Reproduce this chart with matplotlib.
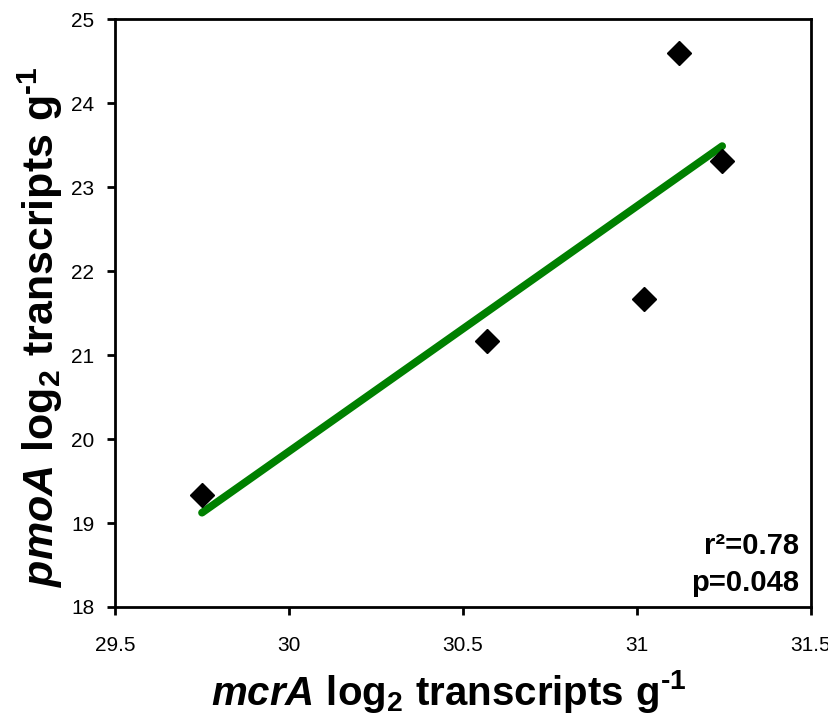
import numpy as np
import matplotlib
matplotlib.use("Agg")
import matplotlib.pyplot as plt

# mcrA vs pmoA transcript abundance (log2 transcripts per gram)
mcra = [29.75, 30.57, 31.02, 31.12, 31.245]
pmoa = [19.33, 21.17, 21.67, 24.60, 23.31]
r2_label = "r\u00b2=0.78"
p_label = "p=0.048"

xticks = [29.5, 30, 30.5, 31, 31.5]
xtick_labels = ["29.5", "30", "30.5", "31", "31.5"]
yticks = [18, 19, 20, 21, 22, 23, 24, 25]

plt.rcParams["font.family"] = ["Liberation Sans", "DejaVu Sans"]
plt.rcParams["mathtext.fontset"] = "custom"
plt.rcParams["mathtext.rm"] = "Liberation Sans:bold"
plt.rcParams["mathtext.bf"] = "Liberation Sans:bold"
plt.rcParams["mathtext.it"] = "Liberation Sans:bold:italic"

fig = plt.figure(figsize=(8.29, 7.18), dpi=100)
ax = fig.add_axes([0.1387, 0.1546, 0.8395, 0.8189])

# least-squares fit line over the observed range
slope, intercept = np.polyfit(mcra, pmoa, 1)
xfit = np.array([min(mcra), max(mcra)])
ax.plot(xfit, slope * xfit + intercept, color="#008000", lw=5.5,
        solid_capstyle="round", zorder=2)
ax.plot(mcra, pmoa, linestyle="none", marker="D", ms=12, color="black", zorder=3)

ax.set_xlim(29.5, 31.5)
ax.set_ylim(18, 25)
ax.set_xticks(xticks)
ax.set_xticklabels(xtick_labels)
ax.set_yticks(yticks)
ax.tick_params(direction="out", length=6, width=2, labelsize=15)
ax.tick_params(axis="x", pad=15)
ax.tick_params(axis="y", pad=9)
for side in ["left", "bottom", "top", "right"]:
    ax.spines[side].set_linewidth(2)

# hyphen (U+2010) keeps the superscript as "-1" rather than a wide minus
ax.set_xlabel("$\\mathit{mcrA}\\ \\mathrm{log}_{2}\\ \\mathrm{transcripts\\ g}^{\u2010 1}$",
              fontsize=29)
ax.xaxis.set_label_coords(0.48, -0.103)
ax.set_ylabel("$\\mathit{pmoA}\\ \\mathrm{log}_{2}\\ \\mathrm{transcripts\\ g}^{\u2010 1}$",
              fontsize=31)
ax.yaxis.set_label_coords(-0.072, 0.476)

ax.text(0.983, 0.104, r2_label, transform=ax.transAxes, ha="right", va="center",
        fontsize=21, fontweight="bold")
ax.text(0.983, 0.041, p_label, transform=ax.transAxes, ha="right", va="center",
        fontsize=21, fontweight="bold")

fig.savefig("out.png", dpi=100)
